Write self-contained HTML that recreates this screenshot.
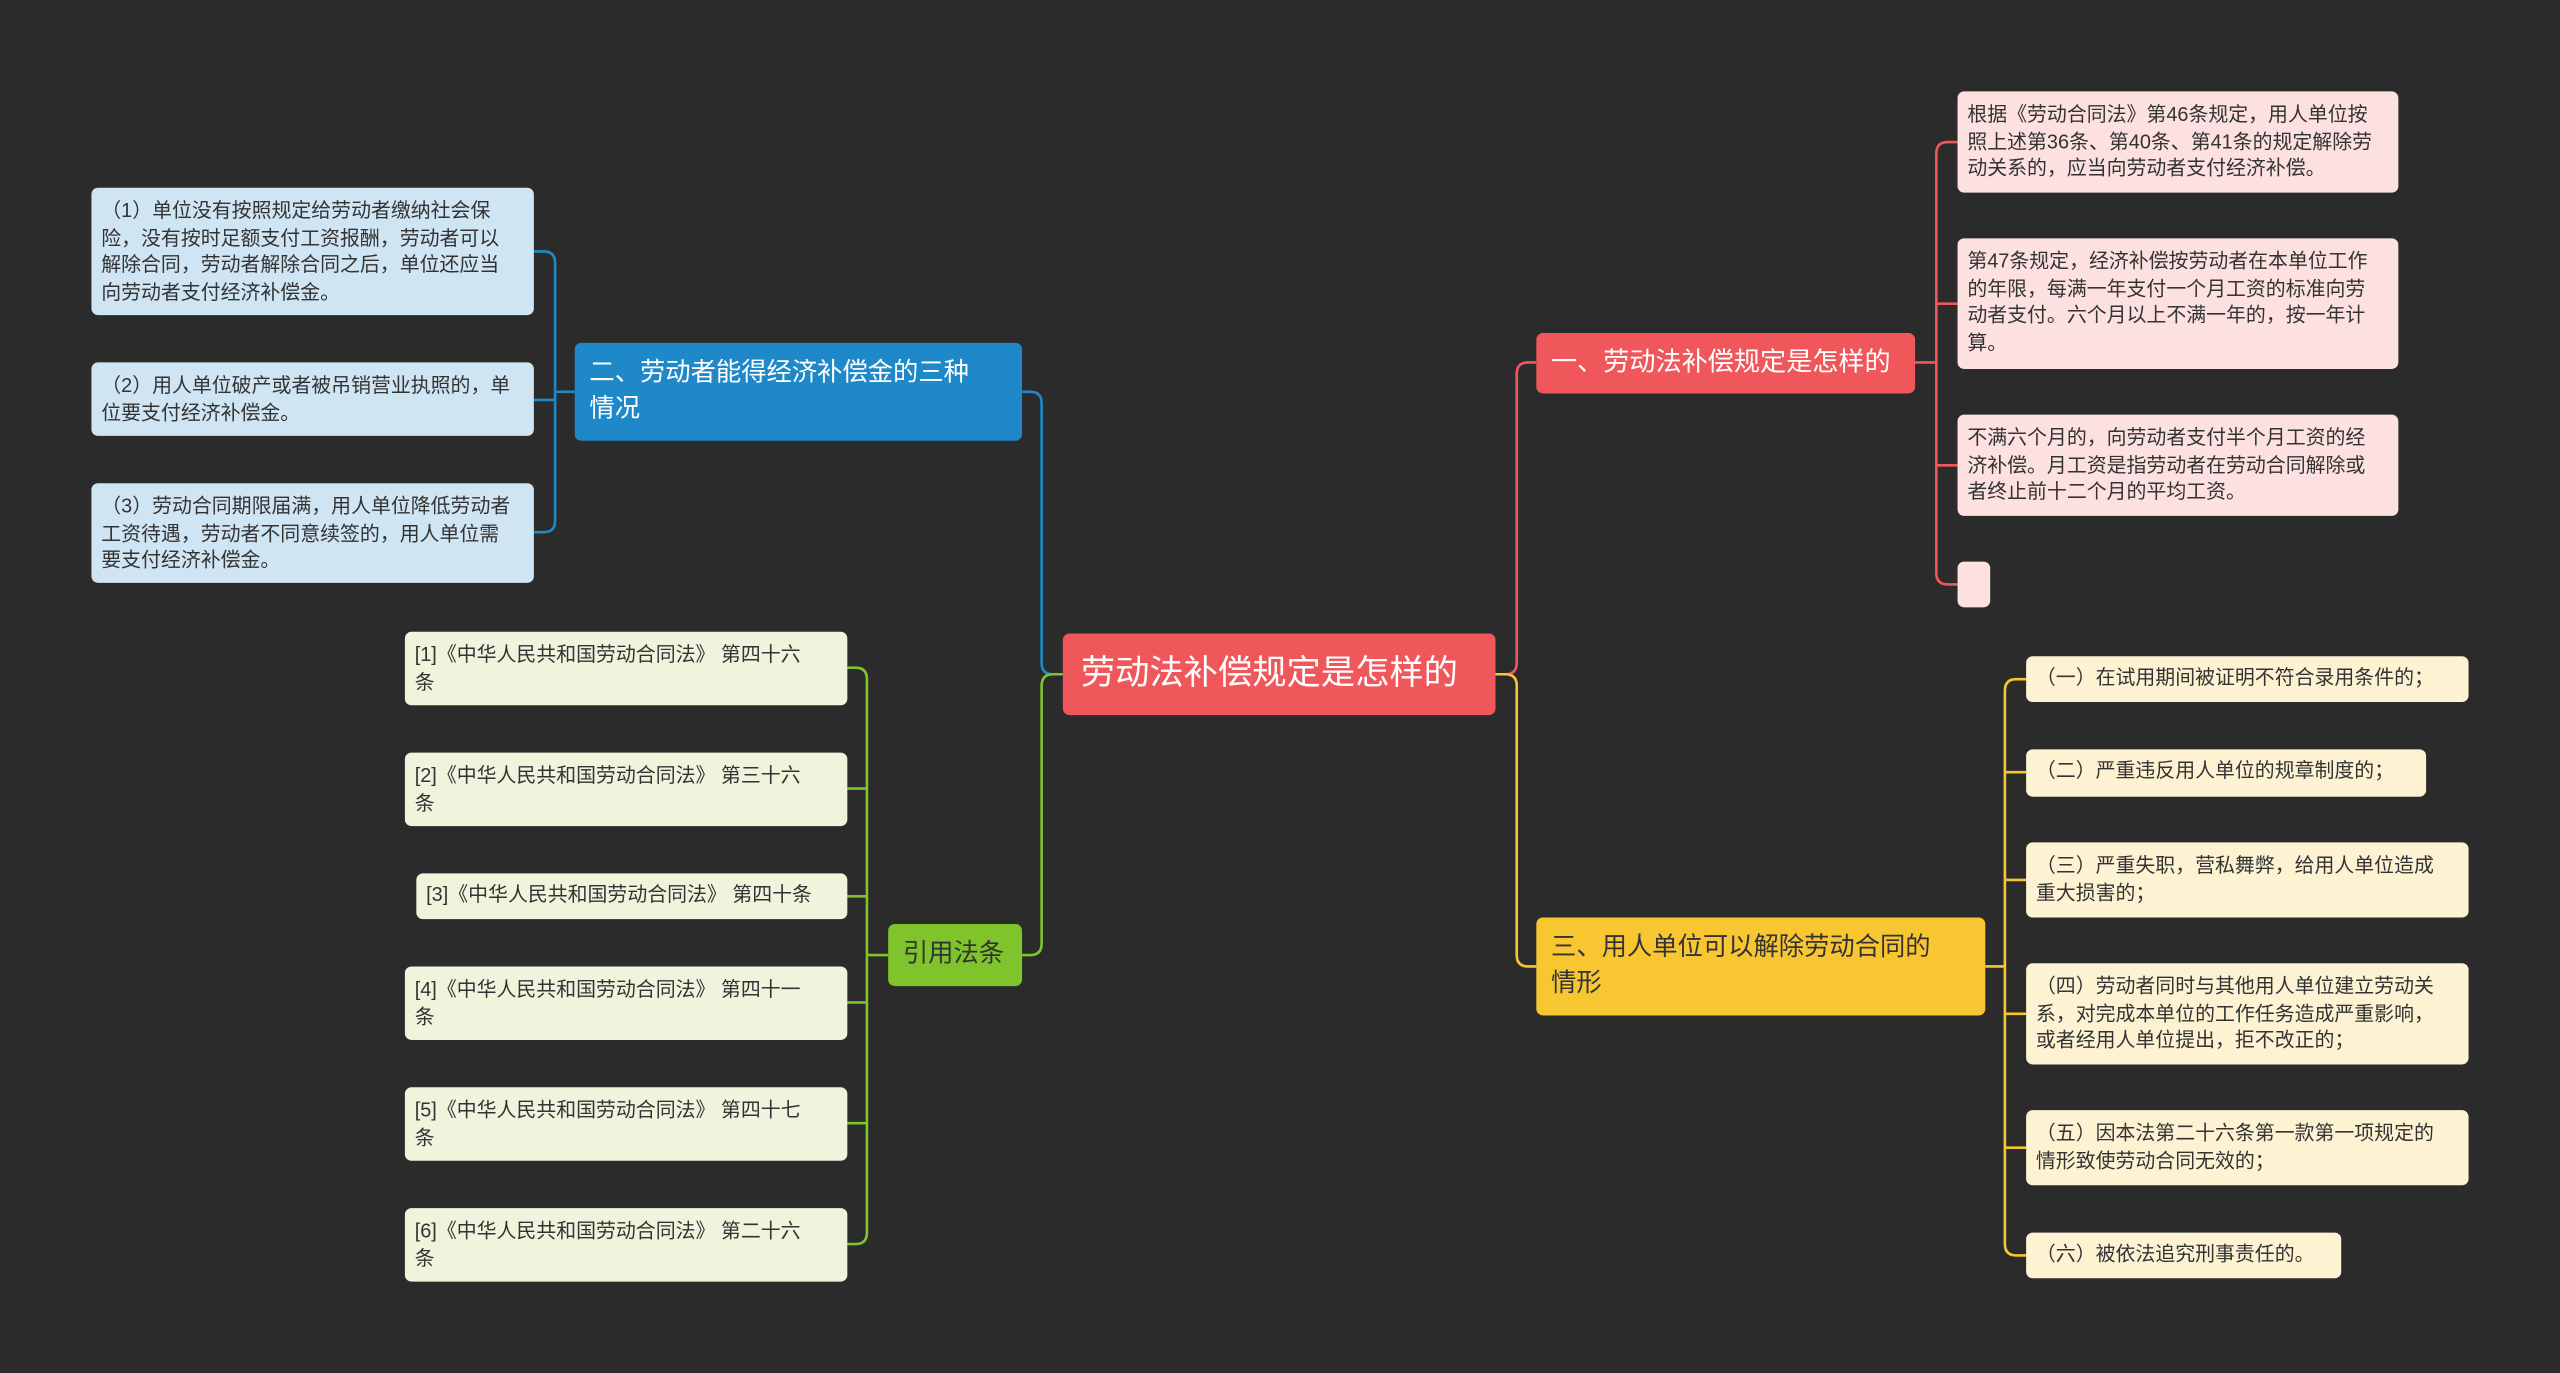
<!DOCTYPE html>
<html><head><meta charset="utf-8"><style>
html,body{margin:0;padding:0;background:#2b2b2b;width:2560px;height:1373px;overflow:hidden}
#w{position:absolute;left:0;top:0;width:1568px;height:841px;transform:scale(1.63265,1.63258);transform-origin:0 0;font-family:"Liberation Sans","Noto Sans CJK SC",sans-serif}
.n{position:absolute;box-sizing:border-box;border-radius:4px;font-size:12.2px;line-height:16.7px;padding:6px 14px 6px 6px;color:#333}
.r{background:#fde0e0}.y{background:#fdf3d3}.b{background:#cfe5f4}.g{background:#eef5dc;padding-right:18px}
.s{white-space:nowrap}
.B{color:#fff;font-size:15.5px;line-height:22px;padding:8px 9px}
svg{position:absolute;left:0;top:0}
</style></head><body><div id="w">
<svg width="1568" height="841" fill="none" stroke-width="1.6">
<path d="M916 413 H922 Q929 413 929 406 V229 Q929 222 936 222 H941" stroke="#f0575a"/>
<path d="M916 413 H922 Q929 413 929 420 V585 Q929 592 936 592 H941" stroke="#f8c630"/>
<path d="M651 413 H645 Q638 413 638 406 V247 Q638 240 631 240 H626" stroke="#1e88c8"/>
<path d="M651 413 H645 Q638 413 638 420 V578 Q638 585 631 585 H626" stroke="#7ec42a"/>
<g stroke="#f0575a"><path d="M1173 222 H1186"/><path d="M1199 87 H1193 Q1186 87 1186 94 V351 Q1186 358 1193 358 H1199"/><path d="M1186 186 H1199 M1186 285 H1199"/></g>
<g stroke="#f8c630"><path d="M1216 592 H1228"/><path d="M1241 416 H1235 Q1228 416 1228 423 V762 Q1228 769 1235 769 H1241"/><path d="M1228 473 H1241 M1228 539 H1241 M1228 621 H1241 M1228 703 H1241"/></g>
<g stroke="#1e88c8"><path d="M352 240 H340"/><path d="M327 154 H333 Q340 154 340 161 V319 Q340 326 333 326 H327"/><path d="M327 245 H340"/></g>
<g stroke="#7ec42a"><path d="M544 585 H531"/><path d="M519 409 H524 Q531 409 531 416 V755 Q531 762 524 762 H519"/><path d="M519 483 H531 M519 549 H531 M519 614 H531 M519 688 H531"/></g>
</svg>
<div class="n s" style="left:651px;top:388px;width:265px;height:50px;background:#f0575a;color:#fff;font-size:21px;line-height:50px;padding:0 0 0 11px">劳动法补偿规定是怎样的</div>
<div class="n B s" style="left:941px;top:204px;width:232px;height:37px;background:#f0575a;font-size:16px">一、劳动法补偿规定是怎样的</div>
<div class="n B" style="left:941px;top:562px;width:275px;height:60px;background:#f8c630;color:#333;padding-right:22px">三、用人单位可以解除劳动合同的情形</div>
<div class="n B" style="left:352px;top:210px;width:274px;height:60px;background:#1e88c8;padding-right:22px">二、劳动者能得经济补偿金的三种情况</div>
<div class="n B s" style="left:544px;top:566px;width:82px;height:38px;background:#7ec42a;color:#333">引用法条</div>
<div class="n r" style="left:1199px;top:56px;width:270px;height:62px">根据《劳动合同法》第46条规定，用人单位按照上述第36条、第40条、第41条的规定解除劳动关系的，应当向劳动者支付经济补偿。</div>
<div class="n r" style="left:1199px;top:146px;width:270px;height:80px">第47条规定，经济补偿按劳动者在本单位工作的年限，每满一年支付一个月工资的标准向劳动者支付。六个月以上不满一年的，按一年计算。</div>
<div class="n r" style="left:1199px;top:254px;width:270px;height:62px">不满六个月的，向劳动者支付半个月工资的经济补偿。月工资是指劳动者在劳动合同解除或者终止前十二个月的平均工资。</div>
<div class="n r" style="left:1199px;top:344px;width:20px;height:28px"></div>
<div class="n y s" style="left:1241px;top:402px;width:271px;height:28px;padding:5px 6px">（一）在试用期间被证明不符合录用条件的；</div>
<div class="n y s" style="left:1241px;top:459px;width:245px;height:29px;padding:5px 6px">（二）严重违反用人单位的规章制度的；</div>
<div class="n y" style="left:1241px;top:516px;width:271px;height:46px">（三）严重失职，营私舞弊，给用人单位造成重大损害的；</div>
<div class="n y" style="left:1241px;top:590px;width:271px;height:62px">（四）劳动者同时与其他用人单位建立劳动关系，对完成本单位的工作任务造成严重影响，或者经用人单位提出，拒不改正的；</div>
<div class="n y" style="left:1241px;top:680px;width:271px;height:46px">（五）因本法第二十六条第一款第一项规定的情形致使劳动合同无效的；</div>
<div class="n y s" style="left:1241px;top:755px;width:193px;height:28px;padding:5px 6px">（六）被依法追究刑事责任的。</div>
<div class="n b" style="left:56px;top:115px;width:271px;height:78px">（1）单位没有按照规定给劳动者缴纳社会保险，没有按时足额支付工资报酬，劳动者可以解除合同，劳动者解除合同之后，单位还应当向劳动者支付经济补偿金。</div>
<div class="n b" style="left:56px;top:222px;width:271px;height:45px">（2）用人单位破产或者被吊销营业执照的，单位要支付经济补偿金。</div>
<div class="n b" style="left:56px;top:296px;width:271px;height:61px">（3）劳动合同期限届满，用人单位降低劳动者工资待遇，劳动者不同意续签的，用人单位需要支付经济补偿金。</div>
<div class="n g" style="left:248px;top:387px;width:271px;height:45px">[1]《中华人民共和国劳动合同法》 第四十六条</div>
<div class="n g" style="left:248px;top:461px;width:271px;height:45px">[2]《中华人民共和国劳动合同法》 第三十六条</div>
<div class="n g s" style="left:255px;top:535px;width:264px;height:28px;padding:5px 6px">[3]《中华人民共和国劳动合同法》 第四十条</div>
<div class="n g" style="left:248px;top:592px;width:271px;height:45px">[4]《中华人民共和国劳动合同法》 第四十一条</div>
<div class="n g" style="left:248px;top:666px;width:271px;height:45px">[5]《中华人民共和国劳动合同法》 第四十七条</div>
<div class="n g" style="left:248px;top:740px;width:271px;height:45px">[6]《中华人民共和国劳动合同法》 第二十六条</div>
</div></body></html>
